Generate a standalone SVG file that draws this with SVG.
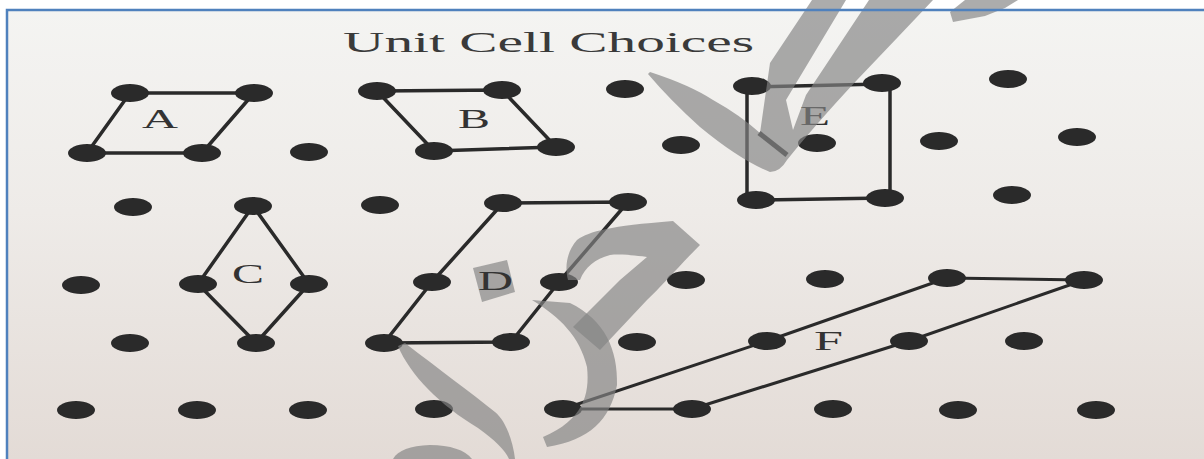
<svg xmlns="http://www.w3.org/2000/svg" width="1204" height="459" viewBox="0 0 1204 459">
<defs>
<linearGradient id="bg" x1="0" y1="0" x2="0" y2="1">
<stop offset="0" stop-color="#f4f4f2"/>
<stop offset="0.45" stop-color="#eeebe8"/>
<stop offset="1" stop-color="#e3dbd6"/>
</linearGradient>
<ellipse id="dot" cx="0" cy="0" rx="19" ry="9"/>
</defs>
<style>
.dot{fill:#2a2a2a}
.edge{fill:none;stroke:#2a2a2a;stroke-width:3.5;stroke-linejoin:round;stroke-linecap:round}
.thin{stroke-width:3}
.lbl{font-family:"Liberation Serif","Times New Roman",serif;font-size:27px;fill:#333}
.ttl{font-family:"Liberation Serif","Times New Roman",serif;font-size:30px;fill:#3a3a3a}
.wm{fill:#838383;fill-opacity:0.67}
</style>
<rect x="0" y="0" width="1204" height="459" fill="#ffffff"/>
<rect x="7" y="10" width="1197" height="449" fill="url(#bg)"/>

<g id="title"><text class="ttl" x="343" y="52" textLength="411" lengthAdjust="spacingAndGlyphs">Unit Cell Choices</text></g>

<g id="connectors">
<path id="cell-A-edges" class="edge" d="M130,93 L254,93 L202,153 L87,153 Z"/>
<path id="cell-B-edges" class="edge" d="M377,91 L502,90 L556,147 L434,151 Z"/>
<path id="cell-C-edges" class="edge" d="M253,206 L309,284 L256,343 L198,284 Z"/>
<path id="cell-D-edges" class="edge" d="M503,203 L628,202 L559,282 L511,342 L384,343 L432,282 Z"/>
<path id="cell-E-edges" class="edge" d="M752,87 L882,84 M747,88 L747,200 M890,84 L890,198 M756,200 L885,198"/>
<path id="cell-F-edges" class="edge thin" d="M563,409 L767,341 L947,278 L1084,280 L909,341 L692,409 Z"/>
</g>

<g id="lattice">
<g id="n-1-1"><use href="#dot" class="dot" x="130" y="93"/></g>
<g id="n-1-2"><use href="#dot" class="dot" x="254" y="93"/></g>
<g id="n-1-3"><use href="#dot" class="dot" x="377" y="91"/></g>
<g id="n-1-4"><use href="#dot" class="dot" x="502" y="90"/></g>
<g id="n-1-5"><use href="#dot" class="dot" x="625" y="89"/></g>
<g id="n-1-6"><use href="#dot" class="dot" x="752" y="86"/></g>
<g id="n-1-7"><use href="#dot" class="dot" x="882" y="83"/></g>
<g id="n-1-8"><use href="#dot" class="dot" x="1008" y="79"/></g>

<g id="n-2-1"><use href="#dot" class="dot" x="87" y="153"/></g>
<g id="n-2-2"><use href="#dot" class="dot" x="202" y="153"/></g>
<g id="n-2-3"><use href="#dot" class="dot" x="309" y="152"/></g>
<g id="n-2-4"><use href="#dot" class="dot" x="434" y="151"/></g>
<g id="n-2-5"><use href="#dot" class="dot" x="556" y="147"/></g>
<g id="n-2-6"><use href="#dot" class="dot" x="681" y="145"/></g>
<g id="n-2-7"><use href="#dot" class="dot" x="817" y="143"/></g>
<g id="n-2-8"><use href="#dot" class="dot" x="939" y="141"/></g>
<g id="n-2-9"><use href="#dot" class="dot" x="1077" y="137"/></g>

<g id="n-3-1"><use href="#dot" class="dot" x="133" y="207"/></g>
<g id="n-3-2"><use href="#dot" class="dot" x="253" y="206"/></g>
<g id="n-3-3"><use href="#dot" class="dot" x="380" y="205"/></g>
<g id="n-3-4"><use href="#dot" class="dot" x="503" y="203"/></g>
<g id="n-3-5"><use href="#dot" class="dot" x="628" y="202"/></g>
<g id="n-3-6"><use href="#dot" class="dot" x="756" y="200"/></g>
<g id="n-3-7"><use href="#dot" class="dot" x="885" y="198"/></g>
<g id="n-3-8"><use href="#dot" class="dot" x="1012" y="195"/></g>

<g id="n-4-1"><use href="#dot" class="dot" x="81" y="285"/></g>
<g id="n-4-2"><use href="#dot" class="dot" x="198" y="284"/></g>
<g id="n-4-3"><use href="#dot" class="dot" x="309" y="284"/></g>
<g id="n-4-4"><use href="#dot" class="dot" x="432" y="282"/></g>
<g id="n-4-5"><use href="#dot" class="dot" x="559" y="282"/></g>
<g id="n-4-6"><use href="#dot" class="dot" x="686" y="280"/></g>
<g id="n-4-7"><use href="#dot" class="dot" x="825" y="279"/></g>
<g id="n-4-8"><use href="#dot" class="dot" x="947" y="278"/></g>
<g id="n-4-9"><use href="#dot" class="dot" x="1084" y="280"/></g>

<g id="n-5-1"><use href="#dot" class="dot" x="130" y="343"/></g>
<g id="n-5-2"><use href="#dot" class="dot" x="256" y="343"/></g>
<g id="n-5-3"><use href="#dot" class="dot" x="384" y="343"/></g>
<g id="n-5-4"><use href="#dot" class="dot" x="511" y="342"/></g>
<g id="n-5-5"><use href="#dot" class="dot" x="637" y="342"/></g>
<g id="n-5-6"><use href="#dot" class="dot" x="767" y="341"/></g>
<g id="n-5-7"><use href="#dot" class="dot" x="909" y="341"/></g>
<g id="n-5-8"><use href="#dot" class="dot" x="1024" y="341"/></g>

<g id="n-6-1"><use href="#dot" class="dot" x="76" y="410"/></g>
<g id="n-6-2"><use href="#dot" class="dot" x="197" y="410"/></g>
<g id="n-6-3"><use href="#dot" class="dot" x="308" y="410"/></g>
<g id="n-6-4"><use href="#dot" class="dot" x="434" y="409"/></g>
<g id="n-6-5"><use href="#dot" class="dot" x="563" y="409"/></g>
<g id="n-6-6"><use href="#dot" class="dot" x="692" y="409"/></g>
<g id="n-6-7"><use href="#dot" class="dot" x="833" y="409"/></g>
<g id="n-6-8"><use href="#dot" class="dot" x="958" y="410"/></g>
<g id="n-6-9"><use href="#dot" class="dot" x="1096" y="410"/></g>
</g>

<g id="watermark-back">
<path class="wm" d="M473,268 L507,260 L515,292 L482,302 Z"/>
</g>

<g id="labels">
<g id="label-A"><text class="lbl" x="142" y="128" textLength="36" lengthAdjust="spacingAndGlyphs">A</text></g>
<g id="label-B"><text class="lbl" x="458" y="128" textLength="32" lengthAdjust="spacingAndGlyphs">B</text></g>
<g id="label-C"><text class="lbl" x="232" y="283" textLength="32" lengthAdjust="spacingAndGlyphs">C</text></g>
<g id="label-D"><text class="lbl" x="478" y="290" textLength="35" lengthAdjust="spacingAndGlyphs">D</text></g>
<g id="label-E"><text class="lbl" x="800" y="125" textLength="30" lengthAdjust="spacingAndGlyphs">E</text></g>
<g id="label-F"><text class="lbl" x="814" y="350" textLength="29" lengthAdjust="spacingAndGlyphs">F</text></g>
</g>

<g id="watermark">
<path class="wm" fill-rule="evenodd" d="M650,72 Q690,85 713,100 Q740,115 760,133 L770,63 L812,0 L933,0 Q900,35 857,80 Q815,125 787,160 Q780,172 770,172 Q740,160 700,127 Q670,100 648,74 Z M846,0 L869,0 L806,95 L793,130 L786,100 Z"/>
<path d="M759,133 L787,155" stroke="#6a6a6a" stroke-width="5" fill="none"/>
<path class="wm" d="M953,22 L950,12 L965,0 L1018,0 L1005,8 L985,16 Z"/>
<path class="wm" d="M398,346 C410,375 440,405 478,428 C495,440 505,450 509,459 L515,459 C513,440 505,420 495,412 C470,392 440,370 405,343 Z"/>
<path class="wm" d="M393,459 C398,450 410,446 430,445 C450,445 465,450 472,459 Z"/>
<path class="wm" d="M568,280 C564,265 568,250 577,240 C590,231 610,226 673,221 L700,245 C680,265 660,288 647,300 L600,350 L573,327 L620,280 L647,257 C630,255 620,254 610,255 C595,259 585,267 580,280 Z"/>
<path class="wm" d="M532,300 C560,317 580,337 587,367 C590,395 583,420 543,437 L547,447 C590,440 610,420 617,385 C618,350 605,320 570,303 Z"/>
</g>

<g id="frame">
<path d="M7,459 L7,10 L1204,10" fill="none" stroke="#4f81bd" stroke-width="2.5"/>
</g>
</svg>
